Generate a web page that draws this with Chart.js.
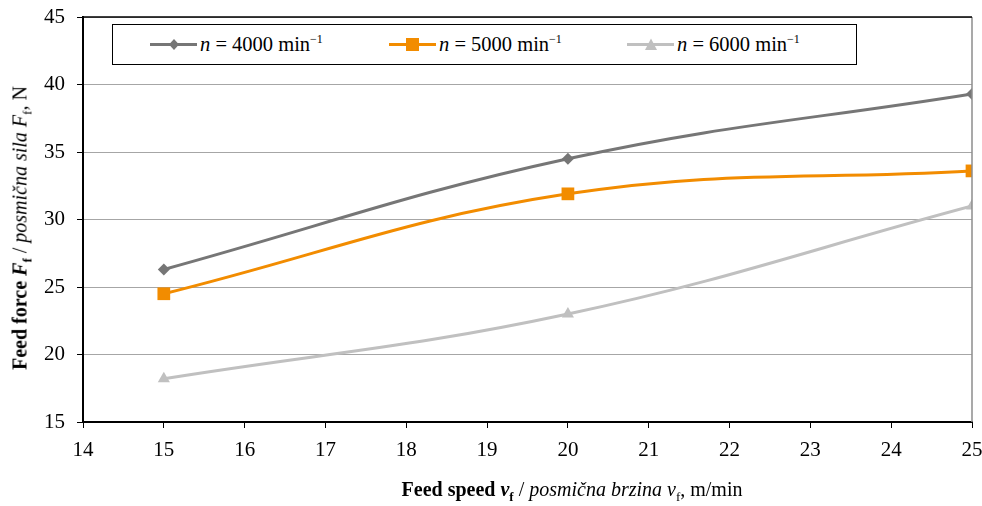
<!DOCTYPE html>
<html>
<head>
<meta charset="utf-8">
<script src="https://cdn.jsdelivr.net/npm/chart.js@4/dist/chart.umd.min.js"></script>
<style>
  body { margin: 0; background: #fff; }
  #wrap { position: relative; width: 982px; height: 506px; font-family: "Liberation Serif", serif; color: #000; }
  #legend { position: absolute; left: 112px; top: 24px; width: 745px; height: 41px; border: 1px solid #000; background: #fff; box-sizing: border-box; }
  .item { position: absolute; top: 7px; font-size: 20.5px; white-space: nowrap; display: flex; align-items: center; }
  .item svg { margin-right: 3px; }
  sup { font-size: 12px; vertical-align: 8px; }
  sub { font-size: 13px; vertical-align: -5px; }
  .xtitle { position: absolute; left: 572px; top: 478px; transform: translateX(-50%); font-size: 20px; white-space: nowrap; }
  .ytitle { position: absolute; left: 22px; top: 228px; font-size: 20px; white-space: nowrap; transform: translate(-50%, -50%) rotate(-90deg); }
</style>
</head>
<body>
<div id="wrap">
  <canvas id="chart" width="982" height="506"></canvas>
  <div id="legend"></div>
  <div class="xtitle"><b>Feed speed <i>v</i><sub>f</sub></b> / <i>posmična brzina v</i><sub>f</sub>, m/min</div>
  <div class="ytitle"><b>Feed force <i>F</i><sub>f</sub></b> / <i>posmična sila F</i><sub>f</sub>, N</div>
</div>
<script>
// feed speed, m/min
const feedSpeed = [15, 20, 25];
// feed force, N, per spindle speed
const force4000 = [26.3, 34.5, 39.3];
const force5000 = [24.5, 31.9, 33.6];
const force6000 = [18.2, 23.0, 31.0];
const speedLabels = ["4000", "5000", "6000"];
const colors = ["#767676", "#F28C00", "#C0C0C0"];
const markers = ["rectRot", "rect", "triangle"];
const markerSize = [6, 9, 7];

const seriesData = [force4000, force5000, force6000];

const datasets = seriesData.map((vals, i) => ({
  label: "n = " + speedLabels[i] + " min⁻¹",
  data: vals.map((v, j) => ({ x: feedSpeed[j], y: v })),
  borderColor: colors[i],
  backgroundColor: colors[i],
  borderWidth: 3,
  pointStyle: markers[i],
  pointRadius: markerSize[i],
  pointBorderWidth: 0,
  tension: 0.4,
}));

// legend (html, so that n can be italic and the exponent raised)
const legendX = [37, 276, 514];
const legend = document.getElementById("legend");
speedLabels.forEach((s, i) => {
  const item = document.createElement("div");
  item.className = "item";
  item.style.left = legendX[i] + "px";
  let mark = "";
  if (i === 0) mark = '<polygon points="24,1 29,6.5 24,12 19,6.5" fill="' + colors[i] + '"/>';
  if (i === 1) mark = '<rect x="17" y="0" width="13" height="13" fill="' + colors[i] + '"/>';
  if (i === 2) mark = '<polygon points="24,0.5 30,12 18,12" fill="' + colors[i] + '"/>';
  item.innerHTML =
    '<svg width="47" height="13"><line x1="0" y1="6.5" x2="47" y2="6.5" stroke="' + colors[i] + '" stroke-width="3"/>' + mark + "</svg>" +
    "<span><i>n</i> = " + s + " min<sup>−1</sup></span>";
  legend.appendChild(item);
});

const frame = {
  id: "frame",
  afterDatasetsDraw(chart) {
    const { ctx, chartArea: a } = chart;
    ctx.save();
    ctx.strokeStyle = "#8c8c8c";
    ctx.lineWidth = 1.5;
    ctx.beginPath();
    ctx.moveTo(a.right, a.top);
    ctx.lineTo(a.right, a.bottom);
    ctx.stroke();
    ctx.strokeStyle = "#000";
    ctx.lineWidth = 1.5;
    ctx.beginPath();
    ctx.moveTo(a.left, a.top);
    ctx.lineTo(a.right, a.top);
    ctx.stroke();
    ctx.restore();
  },
};

const tickFont = { family: "Liberation Serif", size: 21 };

new Chart(document.getElementById("chart"), {
  type: "line",
  data: { datasets },
  options: {
    responsive: false,
    animation: false,
    layout: { padding: { top: 17, right: 10, left: 0, bottom: 0 } },
    plugins: { legend: { display: false }, tooltip: { enabled: false } },
    scales: {
      x: {
        type: "linear",
        min: 14,
        max: 25,
        ticks: { stepSize: 1, padding: 10, font: tickFont, color: "#000" },
        grid: { drawOnChartArea: false, tickColor: "#000", tickLength: 6 },
        border: { color: "#000", width: 2 },
        afterFit: (s) => { s.height = 84; s.paddingLeft = 0; s.paddingRight = 0; },
      },
      y: {
        min: 15,
        max: 45,
        ticks: { stepSize: 5, padding: 12, font: tickFont, color: "#000" },
        grid: { color: "#a6a6a6", tickColor: "#000", tickLength: 6 },
        border: { color: "#000", width: 2 },
        afterFit: (s) => { s.width = 83; s.paddingTop = 0; s.paddingBottom = 0; },
      },
    },
  },
  plugins: [frame],
});
</script>
</body>
</html>
